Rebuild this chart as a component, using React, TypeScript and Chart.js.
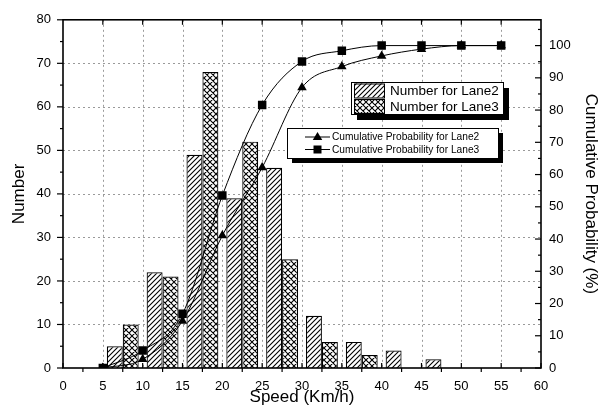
import React, { useEffect, useRef } from 'react';
import { Chart, registerables } from 'chart.js';
Chart.register(...registerables);

// ---- data ----
const binCenters = [7.5, 12.5, 17.5, 22.5, 27.5, 32.5, 37.5, 42.5, 47.5];
const lane2Counts = [5, 22, 49, 39, 46, 12, 6, 4, 2];
const lane3Counts = [10, 21, 68, 52, 25, 6, 3, 0, 0];
const cumSpeeds = [5, 10, 15, 20, 25, 30, 35, 40, 45, 50, 55];
const lane2Cum = [0, 2.7, 14.6, 41.1, 62.2, 87.0, 93.5, 96.8, 98.9, 100, 100];
const lane3Cum = [0, 5.4, 16.8, 53.5, 81.6, 95.1, 98.4, 100, 100, 100, 100];
const seriesLabels = [
  'Number for Lane2',
  'Number for Lane3',
  'Cumulative Probability for Lane2',
  'Cumulative Probability for Lane3',
];
const xTitle = 'Speed (Km/h)';
const yTitle = 'Number';
const y1Title = 'Cumulative Probability (%)';

const FONT = "'Liberation Sans', Arial, sans-serif";

function makePattern(cross: boolean): CanvasPattern {
  const s = cross ? 6 : 5;
  const c = document.createElement('canvas');
  c.width = s;
  c.height = s;
  const g = c.getContext('2d')!;
  g.fillStyle = '#fff';
  g.fillRect(0, 0, s, s);
  g.strokeStyle = '#000';
  g.lineWidth = 1.1;
  g.beginPath();
  g.moveTo(-1, s + 1); g.lineTo(s + 1, -1);
  g.moveTo(-1, 1); g.lineTo(1, -1);
  g.moveTo(s - 1, s + 1); g.lineTo(s + 1, s - 1);
  if (cross) {
    g.moveTo(-1, -1); g.lineTo(s + 1, s + 1);
    g.moveTo(s - 1, -1); g.lineTo(s + 1, 1);
    g.moveTo(-1, s - 1); g.lineTo(1, s + 1);
  }
  g.stroke();
  return g.createPattern(c, 'repeat')!;
}

function drawTri(ctx: CanvasRenderingContext2D, x: number, y: number, r: number) {
  ctx.beginPath();
  ctx.moveTo(x, y - r);
  ctx.lineTo(x + r * 0.95, y + r * 0.6);
  ctx.lineTo(x - r * 0.95, y + r * 0.6);
  ctx.closePath();
  ctx.fill();
}

const framePlugin = {
  id: 'frame',
  beforeDatasetsDraw(chart: any) {
    const { ctx, chartArea: a, scales } = chart;
    const x = scales.x, y = scales.y;
    ctx.save();
    ctx.strokeStyle = '#9a9a9a';
    ctx.lineWidth = 1;
    ctx.setLineDash([2, 3]);
    for (let v = 5; v < 60; v += 5) {
      const px = Math.round(x.getPixelForValue(v)) + 0.5;
      ctx.beginPath(); ctx.moveTo(px, a.top); ctx.lineTo(px, a.bottom); ctx.stroke();
    }
    for (let v = 10; v < 80; v += 10) {
      const py = Math.round(y.getPixelForValue(v)) + 0.5;
      ctx.beginPath(); ctx.moveTo(a.left, py); ctx.lineTo(a.right, py); ctx.stroke();
    }
    ctx.restore();
  },
  afterDatasetsDraw(chart: any) {
    const { ctx, chartArea: a, scales } = chart;
    const x = scales.x, y = scales.y, y1 = scales.y1;
    ctx.save();
    ctx.setLineDash([]);
    ctx.strokeStyle = '#000';
    ctx.lineWidth = 1.6;
    ctx.strokeRect(a.left, a.top, a.right - a.left, a.bottom - a.top);
    ctx.lineWidth = 1.2;
    const seg = (x0: number, y0: number, x1: number, y1p: number) => {
      ctx.beginPath(); ctx.moveTo(x0, y0); ctx.lineTo(x1, y1p); ctx.stroke();
    };
    // left axis ticks (outward)
    for (let v = 0; v <= 80; v += 5) {
      const py = y.getPixelForValue(v);
      seg(a.left - (v % 10 === 0 ? 6 : 3), py, a.left, py);
    }
    // bottom ticks
    for (let v = 0; v <= 60; v += 2.5) {
      const px = x.getPixelForValue(v);
      if (v % 5 === 0) seg(px, a.bottom, px, a.bottom - 5);
      else seg(px, a.bottom, px, a.bottom + 4);
    }
    // top ticks
    for (let v = 5; v < 60; v += 5) {
      const px = x.getPixelForValue(v);
      seg(px, a.top, px, a.top + 5);
    }
    // right ticks (inward)
    for (let v = 0; v <= 105; v += 5) {
      const py = y1.getPixelForValue(v);
      seg(a.right - (v % 10 === 0 ? 6 : 3), py, a.right, py);
    }

    // legend 1 (bars)
    const ds = chart.data.datasets;
    const L1 = { x: 351, y: 82, w: 152, h: 32 };
    ctx.fillStyle = '#000';
    ctx.fillRect(L1.x + 6, L1.y + 6, L1.w, L1.h);
    ctx.fillStyle = '#fff';
    ctx.fillRect(L1.x, L1.y, L1.w, L1.h);
    ctx.lineWidth = 1;
    ctx.strokeRect(L1.x + 0.5, L1.y + 0.5, L1.w, L1.h);
    ctx.font = `13.5px ${FONT}`;
    ctx.textBaseline = 'middle';
    ctx.textAlign = 'left';
    [0, 1].forEach((i) => {
      const top = L1.y + 1.5 + i * 15.5;
      ctx.fillStyle = ds[i].backgroundColor;
      ctx.fillRect(L1.x + 3, top, 30, 14);
      ctx.strokeStyle = '#000';
      ctx.strokeRect(L1.x + 3.5, top + 0.5, 30, 14);
      ctx.fillStyle = '#000';
      ctx.fillText(ds[i].label, L1.x + 39, top + 8);
    });

    // legend 2 (lines)
    const L2 = { x: 287, y: 128, w: 211, h: 30 };
    ctx.fillStyle = '#000';
    ctx.fillRect(L2.x + 5, L2.y + 5, L2.w, L2.h);
    ctx.fillStyle = '#fff';
    ctx.fillRect(L2.x, L2.y, L2.w, L2.h);
    ctx.strokeStyle = '#000';
    ctx.strokeRect(L2.x + 0.5, L2.y + 0.5, L2.w, L2.h);
    ctx.font = `10.2px ${FONT}`;
    [2, 3].forEach((i, k) => {
      const cy = L2.y + 9 + k * 12.5;
      ctx.lineWidth = 1;
      seg(L2.x + 18, cy, L2.x + 43, cy);
      ctx.fillStyle = '#000';
      if (i === 2) drawTri(ctx, L2.x + 30.5, cy, 5);
      else ctx.fillRect(L2.x + 26.5, cy - 4, 8, 8);
      ctx.fillText(ds[i].label, L2.x + 45, cy + 0.5);
    });
    ctx.restore();
  },
};

export default function App() {
  const ref = useRef<HTMLCanvasElement | null>(null);
  useEffect(() => {
    const canvas = ref.current!;
    const hatch = makePattern(false);
    const crossHatch = makePattern(true);
    const chart = new Chart(canvas, {
      type: 'bar',
      data: {
        datasets: [
          {
            type: 'bar',
            label: seriesLabels[0],
            data: binCenters.map((c, i) => ({ x: c, y: lane2Counts[i] })),
            backgroundColor: hatch as any,
            borderColor: '#000',
            borderWidth: 1.2,
            barPercentage: 1,
            categoryPercentage: 0.8,
            yAxisID: 'y',
            order: 2,
          },
          {
            type: 'bar',
            label: seriesLabels[1],
            data: binCenters.map((c, i) => ({ x: c, y: lane3Counts[i] })),
            backgroundColor: crossHatch as any,
            borderColor: '#000',
            borderWidth: 1.2,
            barPercentage: 1,
            categoryPercentage: 0.8,
            yAxisID: 'y',
            order: 2,
          },
          {
            type: 'line',
            label: seriesLabels[2],
            data: cumSpeeds.map((s, i) => ({ x: s, y: lane2Cum[i] })),
            borderColor: '#000',
            backgroundColor: '#000',
            borderWidth: 1,
            pointStyle: 'triangle',
            pointRadius: 5.5,
            pointBorderWidth: 0,
            cubicInterpolationMode: 'monotone',
            yAxisID: 'y1',
            order: 1,
          } as any,
          {
            type: 'line',
            label: seriesLabels[3],
            data: cumSpeeds.map((s, i) => ({ x: s, y: lane3Cum[i] })),
            borderColor: '#000',
            backgroundColor: '#000',
            borderWidth: 1,
            pointStyle: 'rect',
            pointRadius: 6,
            pointBorderWidth: 0,
            cubicInterpolationMode: 'monotone',
            yAxisID: 'y1',
            order: 0,
          } as any,
        ],
      },
      options: {
        responsive: false,
        animation: false,
        devicePixelRatio: 1,
        layout: { padding: { top: 15, left: 0, right: 0, bottom: 0 } },
        plugins: { legend: { display: false }, tooltip: { enabled: false } },
        scales: {
          x: {
            type: 'linear',
            min: 0,
            max: 60,
            offset: false,
            grid: { display: false, drawTicks: false },
            border: { display: false },
            ticks: {
              stepSize: 5,
              autoSkip: false,
              maxRotation: 0,
              padding: 11,
              color: '#000',
              font: { family: FONT, size: 13 },
            },
            title: {
              display: true,
              text: xTitle,
              color: '#000',
              font: { family: FONT, size: 17 },
              padding: { top: 0, bottom: 2 },
            },
            afterFit: (s: any) => { s.height = 42; },
          },
          y: {
            type: 'linear',
            position: 'left',
            min: 0,
            max: 80,
            grid: { display: false, drawTicks: false },
            border: { display: false },
            ticks: {
              stepSize: 10,
              padding: 12,
              color: '#000',
              font: { family: FONT, size: 13 },
            },
            title: {
              display: true,
              text: yTitle,
              color: '#000',
              font: { family: FONT, size: 17 },
              padding: { top: 9, bottom: 0 },
            },
            afterFit: (s: any) => { s.width = 63; },
          },
          y1: {
            type: 'linear',
            position: 'right',
            min: 0,
            max: 108,
            grid: { display: false, drawTicks: false },
            border: { display: false },
            ticks: {
              stepSize: 10,
              includeBounds: false,
              padding: 8,
              color: '#000',
              font: { family: FONT, size: 13 },
            },
            title: {
              display: true,
              text: y1Title,
              color: '#000',
              font: { family: FONT, size: 17 },
              padding: { top: 7, bottom: 0 },
            },
            afterFit: (s: any) => { s.width = 67; },
          },
        },
      },
      plugins: [framePlugin],
    } as any);
    return () => chart.destroy();
  }, []);
  return (
    <div style={{ position: 'fixed', left: 0, top: 0, width: 608, height: 410, background: '#fff' }}>
      <canvas ref={ref} width={608} height={410} />
    </div>
  );
}
